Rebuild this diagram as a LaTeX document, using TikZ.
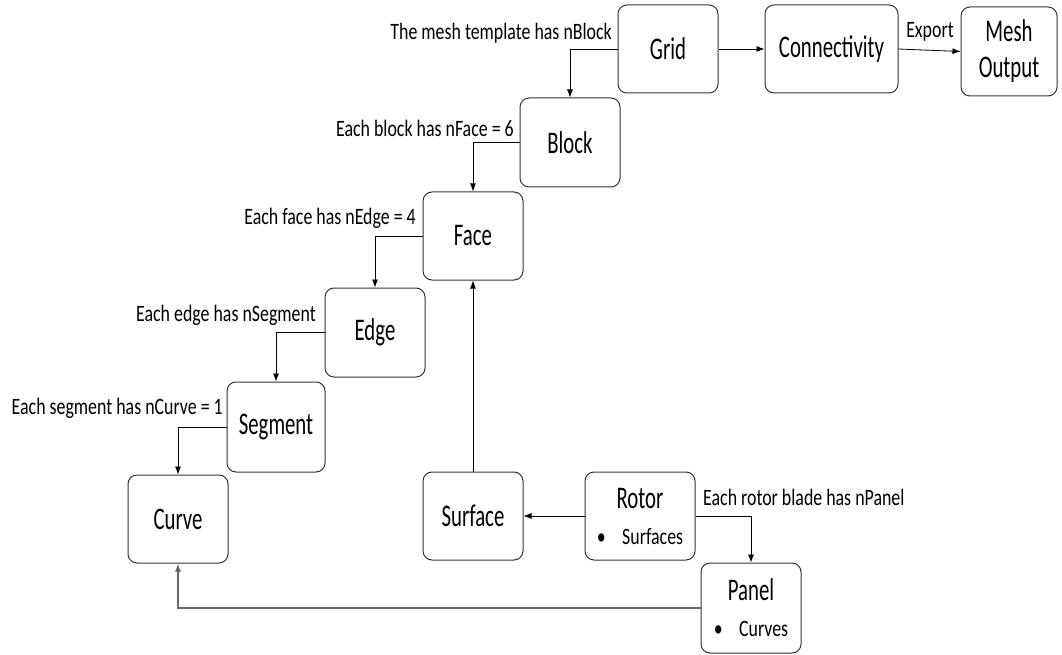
\documentclass[tikz,border=0pt]{standalone}
\usepackage{fontspec}
\setmainfont[FakeStretch=0.76]{Carlito}
\newfontfamily\boxfont[FakeStretch=0.66]{Carlito}
\usetikzlibrary{arrows.meta}

\begin{document}
\begin{tikzpicture}[x=1pt,y=-1pt,
  blk/.style={draw=black!80,line width=1pt,rounded corners=9pt,minimum width=100pt,
    minimum height=88pt,align=center,inner sep=2pt,font=\boxfont\fontsize{31.5}{36}\selectfont},
  lbl/.style={inner sep=0pt,font=\fontsize{23.5}{26}\selectfont},
  arr/.style={-{Latex[length=8pt,width=6pt]},line width=0.8pt}]
  \useasboundingbox (0,0) rectangle (1062,655);
  % boxes
  \node[blk] (grid) at (668,49) {Grid};
  \node[blk,minimum width=133pt] (conn) at (831.5,49) {Connectivity};
  \node[blk,minimum width=96pt,minimum height=89pt] (mesh) at (1009,51.5) {Mesh\\Output};
  \node[blk,minimum height=89pt] (block) at (570,142.5) {Block};
  \node[blk] (face) at (473,236) {Face};
  \node[blk,minimum height=89pt] (edge) at (375,332.5) {Edge};
  \node[blk,minimum width=98pt,minimum height=90pt] (segment) at (276,427) {Segment};
  \node[blk] (curve) at (178,519) {Curve};
  \node[blk] (surface) at (473,516) {Surface};
  \node[blk,minimum width=110pt] (rotor) at (640,516)
    {Rotor\\{\rmfamily\fontsize{23.5}{26}\selectfont\textbullet\hspace{0.7em}Surfaces}};
  \node[blk,minimum height=90pt] (panel) at (751,608)
    {Panel\\{\rmfamily\fontsize{23.5}{26}\selectfont\textbullet\hspace{0.7em}Curves}};
  % labels
  \node[lbl,anchor=east] (lgrid) at (612,33) {The mesh template has nBlock};
  \node[lbl,anchor=east] (lblock) at (514,128) {Each block has nFace = 6};
  \node[lbl,anchor=east] (lface) at (416,218) {Each face has nEdge = 4};
  \node[lbl,anchor=east] (ledge) at (316,315) {Each edge has nSegment};
  \node[lbl,anchor=east] (lsegment) at (223,408) {Each segment has nCurve = 1};
  \node[lbl,anchor=west] (lrotor) at (703,497) {Each rotor blade has nPanel};
  \node[lbl] (lexport) at (930,32) {Export};
  % connectors
  \draw[arr] (grid.east) -- (conn.west);
  \draw[arr] (conn.east) -- (mesh.west);
  \draw[arr] (grid.west) -| (block.north);
  \draw[arr] (block.west) -| (face.north);
  \draw[arr] (face.west) -| (edge.north);
  \draw[arr] (edge.west) -| (segment.north);
  \draw[arr] (segment.west) -| (curve.north);
  \draw[arr] (surface.north) -- (face.south);
  \draw[arr] (rotor.west) -- (surface.east);
  \draw[arr] (rotor.east) -| (panel.north);
  \draw[arr,draw=black!60,line width=1.2pt] (panel.west) -| (curve.south);
\end{tikzpicture}
\end{document}
